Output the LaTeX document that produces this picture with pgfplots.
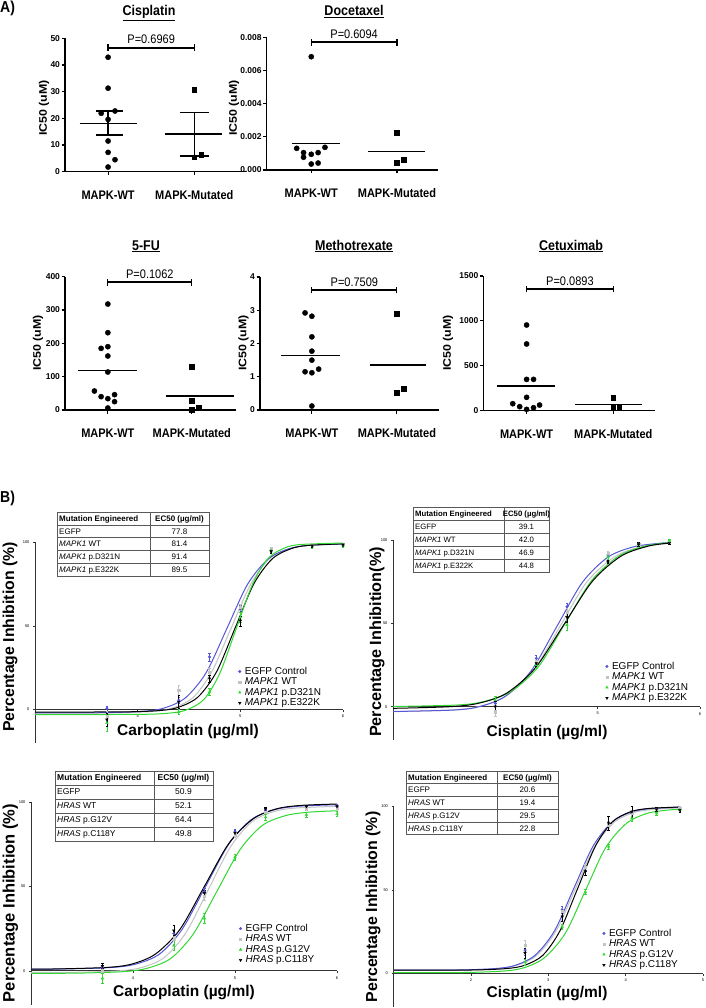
\documentclass[border=0pt]{standalone}
\usepackage{fontspec}
\setmainfont{Liberation Sans}
\usepackage{graphicx}
\usepackage{pgfplots}
\pgfplotsset{compat=1.18}

\definecolor{cblue}{RGB}{85,85,215}
\definecolor{cgray}{RGB}{195,195,195}
\definecolor{cgreen}{RGB}{50,215,50}

\newcommand{\vs}[1]{\scalebox{1}[1.13]{#1}}

\pgfplotsset{
  pa/.style={scale only axis, anchor=south west, axis x line*=bottom, axis y line*=left,
    axis line style={line width=1.1pt}, tick style={line width=1.1pt, black}, tick align=outside,
    major tick length=3.5pt,
    xtick={1,2}, xticklabels={\vs{MAPK-WT},\vs{MAPK-Mutated}},
    xticklabel style={font=\fontsize{11}{11}\selectfont\bfseries, anchor=base, yshift=-24pt},
    yticklabel style={font=\fontsize{8.5}{9}\selectfont\bfseries, xshift=2pt},
    ymin=0, clip=false, scaled y ticks=false,
    /pgf/number format/assume math mode=true, /pgf/number format/1000 sep={}},
  mline/.style={black, line width=1.5pt, forget plot},
  wt/.style={only marks, mark=*, mark size=2.6pt, black},
  mu/.style={only marks, mark=square*, mark size=2.4pt, black},
  pb/.style={scale only axis, anchor=south west, axis x line*=middle, axis y line*=left,
    ymin=-20, ymax=100, ytick={0,50,100}, clip=false,
    axis line style={line width=0.6pt, black!80}, tick style={line width=0.5pt, black!80},
    tick align=outside, major tick length=2pt,
    ticklabel style={font=\fontsize{4}{4}\selectfont},
    /pgf/number format/assume math mode=true,
    legend cell align=left,
    legend image code/.code={\path[draw=none, fill=none] (-1pt,-0.1pt) rectangle (4.5pt,0.1pt); \draw[##1] plot coordinates {(0pt,0pt)};},
    legend style={anchor=north west, draw=none, fill=none, font=\fontsize{10}{10}\selectfont,
      inner sep=0pt, row sep=0pt, nodes={inner sep=0.6pt, text height=7.3pt, text depth=2pt}}},
  cv/.style={smooth, line width=1pt, forget plot},
  sB/.style={only marks, mark=*, mark size=1.3pt, cblue,
    error bars/.cd, y dir=both, y explicit, error bar style={cblue, line width=0.5pt},
    error mark options={rotate=90, cblue, mark size=1.2pt}},
  sG/.style={only marks, mark=square*, mark size=1.1pt, cgray,
    error bars/.cd, y dir=both, y explicit, error bar style={cgray, line width=0.5pt},
    error mark options={rotate=90, cgray, mark size=1.2pt}},
  sN/.style={only marks, mark=triangle*, mark size=1.5pt, cgreen,
    error bars/.cd, y dir=both, y explicit, error bar style={cgreen, line width=0.5pt},
    error mark options={rotate=90, cgreen, mark size=1.2pt}},
  sK/.style={only marks, mark=triangle*, mark size=1.5pt, black, mark options={rotate=180},
    error bars/.cd, y dir=both, y explicit, error bar style={black, line width=0.5pt},
    error mark options={rotate=90, black, mark size=1.2pt}},
}

\newcommand{\pbr}[2]{%
  \draw[line width=1.8pt] (axis cs:1,#1) -- (axis cs:2,#1);
  \draw[line width=1.2pt] ([yshift=-3.3pt]axis cs:1,#1) -- ([yshift=3.3pt]axis cs:1,#1);
  \draw[line width=1.2pt] ([yshift=-3.3pt]axis cs:2,#1) -- ([yshift=3.3pt]axis cs:2,#1);
  \node[font=\fontsize{11}{11}\selectfont, inner sep=0pt] at ([yshift=8pt]axis cs:1.5,#1) {\vs{#2}};
}

\tikzset{tline/.style={line width=0.5pt, black!65},
  tcell/.style={inner sep=0pt, text height=5.8pt, text depth=0pt}}
\newcommand{\tgrid}[5]{%
  \fill[white] (#1,#4) rectangle (#3,{#4+5*#5});
  \draw[tline] (#1,#4) rectangle (#3,{#4+5*#5});
  \foreach \i in {1,2,3,4}{\draw[tline] (#1,{#4+\i*#5}) -- (#3,{#4+\i*#5});}
  \draw[tline] (#2,#4) -- (#2,{#4+5*#5});
}
\newcommand{\trow}[8]{%
  \node[tcell, anchor=west] at ({#1+2},{#4+(#6+0.5)*#5}) {#7};
  \node[tcell] at ({(#2+#3)/2},{#4+(#6+0.5)*#5}) {#8};
}

\begin{document}
\begin{tikzpicture}
\path[use as bounding box] (0,0) rectangle (705pt,-1008pt);

% ---------------- Panel A ----------------
% Cisplatin
\begin{axis}[pa, at={(65pt,-171.7pt)}, width=181pt, height=133.4pt, xmin=0.5, xmax=2.6,
  ymax=50, ytick={0,10,20,30,40,50}]
\addplot[wt] coordinates {(1,42.9)(1,31.3)(0.92,21.9)(1.08,22.75)(1,19.6)(1,11.5)(1,7.25)(1.08,4.5)(1,1.75)};
\addplot[mu] coordinates {(2,30.6)(2,5.4)(2.08,6.25)};
\addplot[mline] coordinates {(0.67,18.1)(1.34,18.1)};
\addplot[mline] coordinates {(1,13.75)(1,22.75)};
\addplot[mline] coordinates {(0.86,22.75)(1.17,22.75)};
\addplot[mline] coordinates {(0.86,13.75)(1.17,13.75)};
\addplot[mline] coordinates {(1.66,14.1)(2.32,14.1)};
\addplot[mline] coordinates {(2,5.9)(2,22.25)};
\addplot[mline] coordinates {(1.83,22.25)(2.17,22.25)};
\addplot[mline] coordinates {(1.83,5.9)(2.17,5.9)};
\pbr{46.5}{P=0.6969}
\end{axis}

% Docetaxel
\begin{axis}[pa, at={(266.7pt,-170pt)}, width=171.4pt, height=132.3pt, xmin=0.48, xmax=2.48,
  ymax=0.008, ytick={0,0.002,0.004,0.006,0.008},
  yticklabel style={/pgf/number format/fixed, /pgf/number format/fixed zerofill, /pgf/number format/precision=3}]
\addplot[wt] coordinates {(1,0.00685)(0.83,0.00131)(0.91,0.00105)(1,0.00095)(1.08,0.00105)(1.16,0.00137)(0.91,0.00077)(1,0.00036)(1.08,0.00042)};
\addplot[mu] coordinates {(2,0.00226)(2,0.00044)(2.08,0.0006)};
\addplot[mline] coordinates {(0.78,0.00161)(1.33,0.00161)};
\addplot[mline] coordinates {(1.66,0.00111)(2.33,0.00111)};
\pbr{0.00772}{P=0.6094}
\end{axis}

% 5-FU
\begin{axis}[pa, at={(65pt,-410pt)}, width=170.5pt, height=133.3pt, xmin=0.49, xmax=2.52,
  ymax=400, ytick={0,100,200,300,400}]
\addplot[wt] coordinates {(1,318)(1,232)(0.92,185)(1,190)(1,162)(1,114)(0.84,57)(0.92,40)(1,34)(1.08,46)(1.08,25)(1,6)};
\addplot[mu] coordinates {(2,130)(2,28)(2.08,8)(2,2)};
\addplot[mline] coordinates {(0.65,118)(1.345,118)};
\addplot[mline] coordinates {(1.69,42)(2.5,42)};
\pbr{383}{P=0.1062}
\end{axis}

% Methotrexate
\begin{axis}[pa, at={(260pt,-410pt)}, width=179.4pt, height=133pt, xmin=0.39, xmax=2.5,
  ymax=4, ytick={0,1,2,3,4}]
\addplot[wt] coordinates {(0.92,2.92)(1,2.82)(1,2.2)(1,1.77)(1,1.5)(1.08,1.23)(0.92,1.15)(1,1.12)(1,0.12)};
\addplot[mu] coordinates {(2,2.9)(2,0.53)(2.08,0.63)};
\addplot[mline] coordinates {(0.64,1.64)(1.33,1.64)};
\addplot[mline] coordinates {(1.68,1.35)(2.34,1.35)};
\pbr{3.61}{P=0.7509}
\end{axis}

% Cetuximab
\begin{axis}[pa, at={(483.3pt,-410.7pt)}, width=171.5pt, height=134.7pt, xmin=0.5, xmax=2.48,
  ymax=1500, ytick={0,500,1000,1500}]
\addplot[wt] coordinates {(1,954)(1,743)(1,349)(1.08,349)(1,149)(0.84,78)(0.92,45)(1,15)(1.08,33)(1.15,63)};
\addplot[mu] coordinates {(2,145)(2,33)(2.07,33)};
\addplot[mline] coordinates {(0.66,275)(1.33,275)};
\addplot[mline] coordinates {(1.56,67)(2.33,67)};
\pbr{1355}{P=0.0893}
\end{axis}

% ---------------- Panel B ----------------
% B1 Carboplatin MAPK1
\begin{axis}[pb, at={(35pt,-743pt)}, width=308pt, height=201pt, xmin=3, xmax=6, xtick={4,5,6},
  legend style={at={(0.660,0.383)}}]
\addplot[cv, cgray] coordinates {(3,-2)(3.80,-1.9)(4.17,-1.0)(4.35,1.1)(4.54,7.2)(4.72,22.3)(4.91,48.5)(5.10,74.7)(5.28,89.8)(5.47,95.9)(5.65,98.0)(6,98.9)};
\addplot[cv, cblue] coordinates {(3,-2)(3.67,-1.9)(4.07,-1.0)(4.27,1.1)(4.47,7.2)(4.67,22.3)(4.87,48.5)(5.07,74.7)(5.27,89.8)(5.47,95.9)(5.67,98.0)(6,98.8)};
\addplot[cv, black] coordinates {(3,-1.5)(3.88,-1.4)(4.236,-0.5)(4.41,1.6)(4.59,7.6)(4.77,22.7)(4.95,48.75)(5.13,74.85)(5.31,89.9)(5.49,95.9)(5.66,98.0)(6,98.9)};
\addplot[cv, cgreen] coordinates {(3,-3)(4.02,-2.9)(4.335,-2.0)(4.49,0.1)(4.65,6.3)(4.80,21.6)(4.96,48.3)(5.12,74.9)(5.27,90.2)(5.43,96.4)(5.585,98.5)(6,99.4)};
\addplot[sB] coordinates {(3.7,0.6)+-(0,1.5) (4.4,5.6)+-(0,2) (4.7,31.4)+-(0,2.5) (5.0,60)+-(0,2) (5.3,95)+-(0,1) (5.7,97.8)+-(0,1) (6.0,98.4)+-(0,1)};
\addplot[sG] coordinates {(3.7,-4)+-(0,3) (4.4,11.5)+-(0,3) (4.7,22.5)+-(0,2) (5.0,61)+-(0,2) (5.3,96)+-(0,1) (5.7,98)+-(0,1) (6.0,98.5)+-(0,1)};
\addplot[sN] coordinates {(3.7,-8)+-(0,5) (4.4,-1.4)+-(0,1.5) (4.7,10.5)+-(0,2) (5.0,55)+-(0,3) (5.3,95)+-(0,1) (5.7,97.5)+-(0,1) (6.0,98)+-(0,1)};
\addplot[sK] coordinates {(3.7,-6)+-(0,4) (4.4,4.6)+-(0,4) (4.7,18.5)+-(0,2) (5.0,53)+-(0,3) (5.3,94.4)+-(0,1) (5.7,97.8)+-(0,1) (6.0,98.4)+-(0,1)};
\addlegendentry{EGFP Control}
\addlegendentry{\textit{MAPK1} WT}
\addlegendentry{\textit{MAPK1} p.D321N}
\addlegendentry{\textit{MAPK1} p.E322K}
\end{axis}

% B2 Cisplatin MAPK1
\begin{axis}[pb, at={(393pt,-740pt)}, width=307pt, height=200pt, xmin=3, xmax=6, xtick={4,5,6},
  legend style={at={(0.692,0.395)}}]
\addplot[cv, cgray] coordinates {(3,-3)(3.58,-2.0)(3.84,0.1)(4.10,6.3)(4.37,21.5)(4.63,48.0)(4.89,74.5)(5.16,89.7)(5.42,95.9)(5.7,98.1)};
\addplot[cv, cblue] coordinates {(3,-2.9)(3.60,-2.0)(3.85,0.1)(4.10,6.3)(4.35,21.5)(4.60,48.0)(4.85,74.5)(5.10,89.7)(5.35,95.9)(5.60,98.0)(5.7,98.4)};
\addplot[cv, cgreen] coordinates {(3,0.1)(3.63,1.0)(3.89,3.1)(4.15,9.0)(4.42,23.9)(4.68,49.75)(4.94,75.6)(5.21,90.5)(5.47,96.4)(5.7,98.4)};
\addplot[cv, black] coordinates {(3,-1)(3.56,0.0)(3.84,2.1)(4.11,8.1)(4.39,23.2)(4.67,49.25)(4.95,75.35)(5.23,90.4)(5.50,96.4)(5.7,98.1)};
\addplot[sB] coordinates {(4.0,2)+-(0,4) (4.4,29)+-(0,2) (4.7,60)+-(0,2) (5.1,91)+-(0,1) (5.4,97)+-(0,1) (5.7,98.4)+-(0,1)};
\addplot[sG] coordinates {(4.0,-3)+-(0,3) (4.4,27)+-(0,2) (4.7,57)+-(0,2) (5.1,92)+-(0,1) (5.4,97.4)+-(0,1) (5.7,98.6)+-(0,1)};
\addplot[sN] coordinates {(4.0,4)+-(0,2) (4.4,25)+-(0,2) (4.7,49)+-(0,3) (5.1,90)+-(0,1.5) (5.4,97.4)+-(0,1) (5.7,99.6)+-(0,1)};
\addplot[sK] coordinates {(4.0,0)+-(0,3) (4.4,26)+-(0,2) (4.7,53.7)+-(0,3) (5.1,87)+-(0,1) (5.4,97.4)+-(0,1) (5.7,98.2)+-(0,1)};
\addlegendentry{EGFP Control}
\addlegendentry{\textit{MAPK1} WT}
\addlegendentry{\textit{MAPK1} p.D321N}
\addlegendentry{\textit{MAPK1} p.E322K}
\end{axis}

% B3 Carboplatin HRAS
\begin{axis}[pb, at={(31pt,-1004.5pt)}, width=306pt, height=202.5pt, xmin=3, xmax=6, xtick={4,5,6},
  legend style={at={(0.680,0.402)}}]
\addplot[cv, cgray] coordinates {(3,-1)(3.44,-0.9)(3.87,0.0)(4.09,2.0)(4.31,8.0)(4.52,22.7)(4.74,48.25)(4.96,73.8)(5.17,88.5)(5.39,94.5)(5.61,96.5)(6,97.4)};
\addplot[cv, cgreen] coordinates {(3,-1.5)(3.46,-1.4)(3.91,-0.5)(4.14,1.5)(4.37,7.3)(4.59,21.7)(4.82,46.75)(5.05,71.8)(5.27,86.2)(5.50,92.0)(5.73,94.0)(6,94.8)};
\addplot[cv, cblue] coordinates {(3,1.0)(3.35,1.1)(3.80,2.0)(4.03,4.0)(4.26,9.9)(4.48,24.4)(4.71,49.75)(4.94,75.1)(5.16,89.6)(5.39,95.5)(5.62,97.5)(6,98.4)};
\addplot[cv, black] coordinates {(3,1)(3.27,1.1)(3.75,2.0)(3.99,4.0)(4.22,9.9)(4.46,24.5)(4.70,50)(4.94,75.5)(5.18,90.1)(5.41,96.0)(5.65,98.0)(6,98.8)};
\addplot[sB] coordinates {(3.7,2)+-(0,1.5) (4.4,22)+-(0,2) (4.7,47)+-(0,2) (5.0,82.6)+-(0,1.5) (5.3,95)+-(0,1) (5.7,97)+-(0,1) (6.0,97.5)+-(0,1)};
\addplot[sG] coordinates {(3.7,0)+-(0,1.5) (4.4,19)+-(0,3) (4.7,44)+-(0,2) (5.0,80.6)+-(0,1.5) (5.3,94)+-(0,1) (5.7,96.4)+-(0,1) (6.0,96.4)+-(0,1)};
\addplot[sN] coordinates {(3.7,-4.5)+-(0,3) (4.4,15)+-(0,3) (4.7,31)+-(0,3) (5.0,67.3)+-(0,1.5) (5.3,91)+-(0,1.5) (5.7,92.5)+-(0,1.5) (6.0,92.9)+-(0,1.5)};
\addplot[sK] coordinates {(3.7,2.8)+-(0,1.5) (4.4,23.8)+-(0,3) (4.7,46)+-(0,2) (5.0,81.6)+-(0,1.5) (5.3,96)+-(0,1) (5.7,97.4)+-(0,1) (6.0,97.4)+-(0,1)};
\addlegendentry{EGFP Control}
\addlegendentry{\textit{HRAS} WT}
\addlegendentry{\textit{HRAS} p.G12V}
\addlegendentry{\textit{HRAS} p.C118Y}
\end{axis}

% B4 Cisplatin HRAS
\begin{axis}[pb, at={(393.5pt,-1007pt)}, width=309.5pt, height=201pt, xmin=1, xmax=5, xtick={2,3,4,5},
  legend style={at={(0.675,0.393)}}]
\addplot[cv, cgray] coordinates {(1,2)(1.85,2.1)(2.35,3.0)(2.60,5.0)(2.85,10.8)(3.10,25.3)(3.35,50.5)(3.60,75.7)(3.85,90.2)(4.10,96.0)(4.35,98.0)(4.7,98.8)};
\addplot[cv, cblue] coordinates {(1,2)(1.83,2.1)(2.33,3.0)(2.58,5.0)(2.83,10.9)(3.08,25.4)(3.33,50.75)(3.58,76.1)(3.83,90.6)(4.08,96.5)(4.33,98.5)(4.7,99.3)};
\addplot[cv, cgreen] coordinates {(1,0.5)(1.90,0.6)(2.43,1.5)(2.69,3.5)(2.95,9.4)(3.22,24.0)(3.48,49.5)(3.74,75.0)(4.01,89.6)(4.27,95.5)(4.53,97.5)(4.7,98.0)};
\addplot[cv, black] coordinates {(1,2)(2.02,2.1)(2.47,3.0)(2.70,5.0)(2.93,10.9)(3.15,25.4)(3.38,50.75)(3.61,76.1)(3.83,90.6)(4.06,96.5)(4.29,98.5)(4.7,99.4)};
\addplot[sB] coordinates {(2.7,14)+-(0,3) (3.18,38)+-(0,2) (3.48,63)+-(0,2) (3.78,88.7)+-(0,2) (4.08,95.6)+-(0,1.5) (4.4,98)+-(0,1) (4.7,98.6)+-(0,1)};
\addplot[sG] coordinates {(2.7,16.7)+-(0,3) (3.18,37)+-(0,2) (3.48,63.5)+-(0,2) (3.78,88.7)+-(0,2) (4.08,96)+-(0,1.5) (4.4,98.2)+-(0,1) (4.7,98.6)+-(0,1)};
\addplot[sN] coordinates {(2.7,6.7)+-(0,2) (3.18,28)+-(0,1.5) (3.48,48.6)+-(0,1.5) (3.78,75.8)+-(0,1.5) (4.08,92.7)+-(0,1.5) (4.4,95.6)+-(0,1) (4.7,97.6)+-(0,1)};
\addplot[sK] coordinates {(2.7,12.3)+-(0,3) (3.18,34)+-(0,2.5) (3.48,61)+-(0,2.5) (3.78,89.7)+-(0,4) (4.08,96.6)+-(0,3) (4.4,98)+-(0,1) (4.7,97.6)+-(0,1.5)};
\addlegendentry{EGFP Control}
\addlegendentry{\textit{HRAS} WT}
\addlegendentry{\textit{HRAS} p.G12V}
\addlegendentry{\textit{HRAS} p.C118Y}
\end{axis}

% ---------------- annotations (pixel frame) ----------------
\begin{scope}[x=1pt, y=-1pt]
\node[anchor=west, font=\fontsize{14}{14}\selectfont\bfseries, inner sep=0pt] at (0,8.5) {\vs{A)}};
\node[anchor=west, font=\fontsize{14}{14}\selectfont\bfseries, inner sep=0pt] at (0,498.5) {\vs{B)}};

\begin{scope}[every node/.style={anchor=base, inner sep=0pt, font=\fontsize{12.5}{13}\selectfont\bfseries}]
\node at (149,16) {\vs{\underline{Cisplatin}}};
\node at (354,16) {\vs{\underline{Docetaxel}}};
\node at (146,250) {\vs{\underline{5-FU}}};
\node at (354,250) {\vs{\underline{Methotrexate}}};
\node at (571,250) {\vs{\underline{Cetuximab}}};
\end{scope}

\begin{scope}[every node/.style={rotate=90, inner sep=0pt, font=\fontsize{11}{11}\selectfont\bfseries}]
\node at (44,108) {\scalebox{1.13}[1]{IC50 (uM)}};
\node at (234,108) {\scalebox{1.13}[1]{IC50 (uM)}};
\node at (38,343) {\scalebox{1.13}[1]{IC50 (uM)}};
\node at (243.5,343) {\scalebox{1.13}[1]{IC50 (uM)}};
\node at (448,343) {\scalebox{1.13}[1]{IC50 (uM)}};
\end{scope}

\node[rotate=90, inner sep=0pt, font=\fontsize{15.8}{16}\selectfont\bfseries] at (10,637) {Percentage Inhibition (\%)};
\node[rotate=90, inner sep=0pt, font=\fontsize{16.2}{16}\selectfont\bfseries] at (377,642) {Percentage Inhibition(\%)};
\node[rotate=90, inner sep=0pt, font=\fontsize{16.5}{16}\selectfont\bfseries] at (10.5,903) {Percentage Inhibition (\%)};
\node[rotate=90, inner sep=0pt, font=\fontsize{15.9}{16}\selectfont\bfseries] at (373,907) {Percentage Inhibition (\%)};

\begin{scope}[every node/.style={anchor=base, inner sep=0pt, font=\fontsize{15.5}{16}\selectfont\bfseries}]
\node at (188,735) {Carboplatin (µg/ml)};
\node at (547,736) {Cisplatin (µg/ml)};
\node at (184,996.7) {Carboplatin (µg/ml)};
\node at (547,997) {Cisplatin (µg/ml)};
\end{scope}

% tables
\begin{scope}[font=\fontsize{8}{9}\selectfont]
\tgrid{57}{150}{209}{512}{12.8}
\trow{57}{150}{209}{512}{12.8}{0}{\textbf{Mutation Engineered}}{\textbf{EC50 (µg/ml)}}
\trow{57}{150}{209}{512}{12.8}{1}{EGFP}{77.8}
\trow{57}{150}{209}{512}{12.8}{2}{\textit{MAPK1} WT}{81.4}
\trow{57}{150}{209}{512}{12.8}{3}{\textit{MAPK1} p.D321N}{91.4}
\trow{57}{150}{209}{512}{12.8}{4}{\textit{MAPK1} p.E322K}{89.5}
\end{scope}
\begin{scope}[font=\fontsize{7.75}{9}\selectfont]
\tgrid{413}{504}{549}{507}{13}
\trow{413}{504}{549}{507}{13}{0}{\textbf{Mutation Engineered}}{\textbf{EC50 (µg/ml)}}
\trow{413}{504}{549}{507}{13}{1}{EGFP}{39.1}
\trow{413}{504}{549}{507}{13}{2}{\textit{MAPK1} WT}{42.0}
\trow{413}{504}{549}{507}{13}{3}{\textit{MAPK1} p.D321N}{46.9}
\trow{413}{504}{549}{507}{13}{4}{\textit{MAPK1} p.E322K}{44.8}
\end{scope}
\begin{scope}[font=\fontsize{8.5}{10}\selectfont]
\tgrid{55}{154}{213}{771}{14}
\trow{55}{154}{213}{771}{14}{0}{\textbf{Mutation Engineered}}{\textbf{EC50 (µg/ml)}}
\trow{55}{154}{213}{771}{14}{1}{EGFP}{50.9}
\trow{55}{154}{213}{771}{14}{2}{\textit{HRAS} WT}{52.1}
\trow{55}{154}{213}{771}{14}{3}{\textit{HRAS} p.G12V}{64.4}
\trow{55}{154}{213}{771}{14}{4}{\textit{HRAS} p.C118Y}{49.8}
\end{scope}
\begin{scope}[font=\fontsize{8}{9}\selectfont]
\tgrid{406}{497}{558}{771}{12.7}
\trow{406}{497}{558}{771}{12.7}{0}{\textbf{Mutation Engineered}}{\textbf{EC50 (µg/ml)}}
\trow{406}{497}{558}{771}{12.7}{1}{EGFP}{20.6}
\trow{406}{497}{558}{771}{12.7}{2}{\textit{HRAS} WT}{19.4}
\trow{406}{497}{558}{771}{12.7}{3}{\textit{HRAS} p.G12V}{29.5}
\trow{406}{497}{558}{771}{12.7}{4}{\textit{HRAS} p.C118Y}{22.8}
\end{scope}
\end{scope}
\end{tikzpicture}
\end{document}
